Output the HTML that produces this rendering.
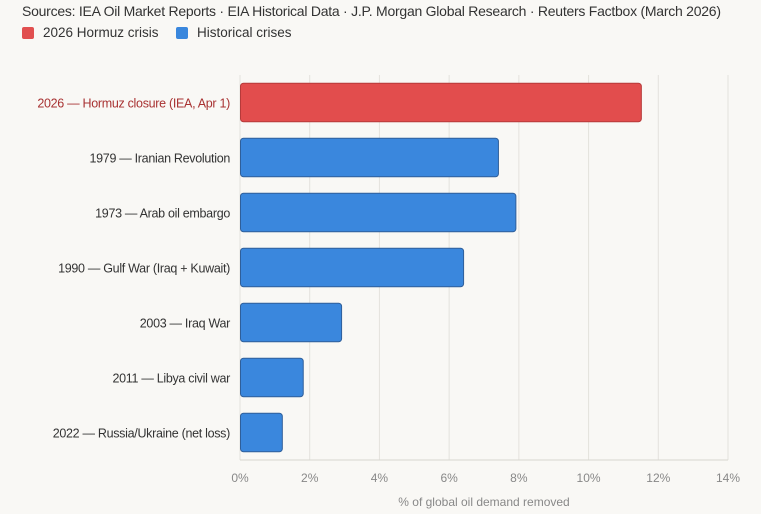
<!DOCTYPE html>
<html><head><meta charset="utf-8"><style>
body{margin:0;background:#f9f8f5;font-family:"Liberation Sans",sans-serif;}
#wrap{position:relative;width:761px;height:514px;overflow:hidden;}
.src{position:absolute;left:22px;top:3px;font-size:14px;color:#333;white-space:nowrap;letter-spacing:-0.25px}
.leg{position:absolute;top:25px;font-size:13.5px;color:#333;display:flex;align-items:center}
.sw{width:12px;height:12px;border-radius:2px;margin-right:9px;display:inline-block}
</style></head><body>
<div id="wrap">
<div class="src">Sources: IEA Oil Market Reports · EIA Historical Data · J.P. Morgan Global Research · Reuters Factbox (March 2026)</div>
<div class="leg" style="left:22px"><span class="sw" style="background:#e14f4f"></span>2026 Hormuz crisis</div>
<div class="leg" style="left:176px"><span class="sw" style="background:#3a87dd"></span>Historical crises</div>
<svg id="chart" width="761" height="514" style="position:absolute;left:0;top:0"></svg>
</div>
<script>
const categories=["2026 — Hormuz closure (IEA, Apr 1)","1979 — Iranian Revolution","1973 — Arab oil embargo","1990 — Gulf War (Iraq + Kuwait)","2003 — Iraq War","2011 — Libya civil war","2022 — Russia/Ukraine (net loss)"];
const values=[11.5,7.4,7.9,6.4,2.9,1.8,1.2];
const highlight=[true,false,false,false,false,false,false];
const ticks=[0,2,4,6,8,10,12,14];
const tickLabels=["0%","2%","4%","6%","8%","10%","12%","14%"];
const NS="http://www.w3.org/2000/svg";
const svg=document.getElementById('chart');
const x0=240,x1=728,yTop=75,yBot=460;
const xs=v=>x0+v/14*(x1-x0);
const band=(yBot-yTop)/categories.length;
const ys=i=>yTop+band*i;
function mk(t,a){const e=document.createElementNS(NS,t);for(const k in a)e.setAttribute(k,a[k]);svg.appendChild(e);return e;}
ticks.forEach((t,i)=>{
 const g=mk('line',{x1:xs(t),x2:xs(t),y1:yTop,y2:yBot,stroke:'#e4e2dd','stroke-width':1});
 
 
 const l=mk('text',{x:xs(t),y:yBot+22,'text-anchor':'middle','font-size':12,fill:'#888'});
 l.textContent=tickLabels[i];
 
 
});
const ax=mk('line',{x1:x0,x2:x1,y1:yBot,y2:yBot,stroke:'#d8d6d0'});


const ttl=mk('text',{x:484,y:yBot+46,'text-anchor':'middle','font-size':12,fill:'#888'});
ttl.textContent='% of global oil demand removed';


categories.forEach((c,i)=>{
 const cy=ys(i)+band/2,h=band*0.7;
 const r=mk('rect',{x:xs(0)+0.5,y:cy-h/2,width:xs(values[i])-xs(0),height:h,rx:3,fill:highlight[i]?'#e24d4d':'#3a87dd',stroke:highlight[i]?'#b63a3a':'#2f5f9a','stroke-width':1});
 
 
 const t=mk('text',{x:x0-10,y:cy+5,'text-anchor':'end','font-size':12.5,'letter-spacing':'-0.3',fill:highlight[i]?'#a83232':'#333'});
 t.textContent=c;
 
 
});
</script>
</body></html>
